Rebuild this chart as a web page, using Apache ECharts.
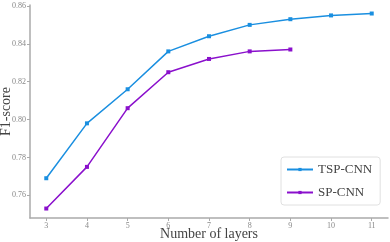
<!DOCTYPE html>
<html><head><meta charset="utf-8">
<script src="https://cdn.jsdelivr.net/npm/echarts@6/dist/echarts.min.js"></script>
<style>html,body{margin:0;padding:0;background:#fff}#c{width:390px;height:242px}</style>
</head><body><div id="c"></div>
<script>
const layers = [3, 4, 5, 6, 7, 8, 9, 10, 11];
const tspCnn = [0.769, 0.798, 0.816, 0.836, 0.844, 0.850, 0.853, 0.855, 0.856];
const spCnn = [0.753, 0.775, 0.806, 0.825, 0.832, 0.836, 0.837];
const yTicks = [0.76, 0.78, 0.80, 0.82, 0.84, 0.86];
const xTicks = [3, 4, 5, 6, 7, 8, 9, 10, 11];

const font = '"Liberation Serif", "DejaVu Serif", serif';
const chart = echarts.init(document.getElementById('c'), null, {renderer: 'canvas'});
chart.setOption({
  animation: false,
  grid: {left: 30, right: 2, top: 5, bottom: 24, containLabel: false, outerBoundsMode: 'none'},
  legend: {
    left: 281, top: 157, orient: 'vertical', itemWidth: 26, itemHeight: 4, itemGap: 10,
    padding: [6, 8, 6, 5],
    borderColor: '#e0e0e0', borderWidth: 1, borderRadius: 3,
    textStyle: {fontFamily: font, fontSize: 13, color: '#444'},
    data: ['TSP-CNN', 'SP-CNN']
  },
  xAxis: {
    type: 'value', min: 2.6, max: 11.4,
    name: 'Number of layers', nameLocation: 'middle', nameGap: 9, nameMoveOverlap: false,
    nameTextStyle: {fontFamily: font, fontSize: 14, color: '#444'},
    axisLine: {lineStyle: {color: '#aaa', width: 1.5}},
    axisTick: {show: true, length: 3, lineStyle: {color: '#aaa'}, customValues: xTicks},
    axisLabel: {fontFamily: font, fontSize: 8, color: '#888', margin: 4, customValues: xTicks},
    splitLine: {show: false}
  },
  yAxis: {
    type: 'value', min: 0.748, max: 0.8605,
    name: 'F1-score', nameLocation: 'middle', nameGap: 17, nameMoveOverlap: false,
    nameTextStyle: {fontFamily: font, fontSize: 14, color: '#444'},
    axisLine: {show: true, lineStyle: {color: '#aaa', width: 1.5}},
    axisTick: {show: true, length: 3, lineStyle: {color: '#aaa'}, customValues: yTicks},
    axisLabel: {fontFamily: font, fontSize: 8, color: '#888', margin: 4, customValues: yTicks,
      formatter: v => v.toFixed(2)},
    splitLine: {show: false}
  },
  series: [
    {name: 'TSP-CNN', type: 'line', data: tspCnn.map((v, i) => [layers[i], v]),
     symbol: 'rect', symbolSize: 4, color: '#1a8fe0', lineStyle: {width: 1.5}},
    {name: 'SP-CNN', type: 'line', data: spCnn.map((v, i) => [layers[i], v]),
     symbol: 'rect', symbolSize: 4, color: '#8a10cc', lineStyle: {width: 1.5}}
  ]
});
</script></body></html>
